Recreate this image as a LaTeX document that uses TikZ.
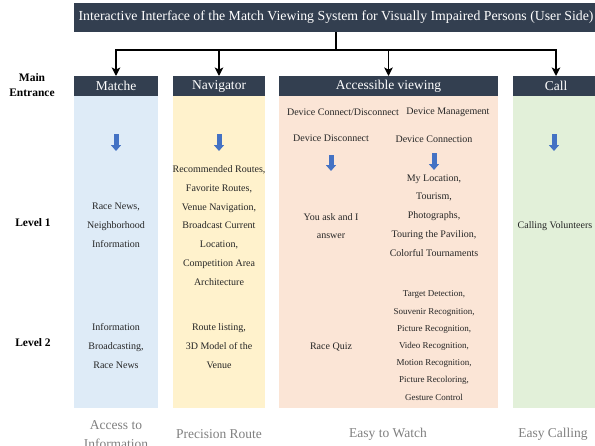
\documentclass[tikz,border=0pt]{standalone}
\usepackage{fontspec}
\setmainfont{Liberation Serif}
\usetikzlibrary{arrows.meta}
\definecolor{navy}{HTML}{333F50}
\definecolor{colblue}{HTML}{DEEBF7}
\definecolor{colyellow}{HTML}{FFF2CC}
\definecolor{colpink}{HTML}{FBE5D6}
\definecolor{colgreen}{HTML}{E2F0D9}
\definecolor{arrowblue}{HTML}{4472C4}
\definecolor{txt}{HTML}{262626}
\definecolor{caption}{HTML}{7F7F7F}
\begin{document}
\begin{tikzpicture}[x=1pt,y=-1pt,
  every node/.style={inner sep=0pt,outer sep=0pt},
  titlebox/.style={fill=navy,text=white,font=\fontsize{13.8}{16}\selectfont},
  headbox/.style={fill=navy,text=white,minimum height=20pt,font=\fontsize{13.5}{16}\selectfont},
  bodybox/.style={minimum height=312pt},
  item/.style={text=txt,align=center,font=\fontsize{10}{18.8}\selectfont},
  smallitem/.style={text=txt,align=center,font=\fontsize{9}{17.2}\selectfont},
  rowlabel/.style={align=center,font=\fontsize{11.5}{15}\selectfont\bfseries},
  capt/.style={text=caption,align=center,font=\fontsize{13.5}{19}\selectfont},
  conn/.style={line width=1.6pt,black},
  connarrow/.style={conn,-{Stealth[length=8.5pt,width=8.5pt,inset=2pt]}},
  downarrow/.style={arrowblue,line width=5pt,-{Triangle[width=10pt,length=6pt]}}
]
\useasboundingbox (0,0) rectangle (595,445);

% title bar
\node[titlebox,minimum width=524pt,minimum height=29pt] (t) at (336,17.5)
  {Interactive Interface of the Match Viewing System for Visually Impaired Persons (User Side)};

% column bodies
\node[bodybox,fill=colblue,minimum width=84pt] (mb) at (116,252) {};
\node[bodybox,fill=colyellow,minimum width=92pt] (nb) at (219,252) {};
\node[bodybox,fill=colpink,minimum width=219pt] (ab) at (388.5,252) {};
\node[bodybox,fill=colgreen,minimum width=86pt] (cb) at (556,252) {};

% column headers
\node[headbox,minimum width=84pt] (m) at (116,86) {Matche};
\node[headbox,minimum width=92pt] (n) at (219,86) {Navigator};
\node[headbox,minimum width=219pt] (a) at (388.5,86) {Accessible viewing};
\node[headbox,minimum width=86pt] (c) at (556,86) {Call};

% tree connectors
\coordinate (j) at (336,50);
\draw[conn] (t.south) -- (j);
\draw[connarrow] (j) -| (m.north);
\draw[connarrow] (j) -| (n.north);
\draw[connarrow] (j) -| (a.north);
\draw[connarrow] (j) -| (c.north);

% row labels
\node[rowlabel] (l0) at (32,85.5) {Main\\Entrance};
\node[rowlabel] (l1) at (33,223) {Level 1};
\node[rowlabel] (l2) at (33,343) {Level 2};

% Matche column
\draw[downarrow] (116,134) -- (116,151);
\node[item] (m1) at (116,225.5) {Race News,\\Neighborhood\\Information};
\node[item] (m2) at (116,346) {Information\\Broadcasting,\\Race News};

% Navigator column
\draw[downarrow] (219,134) -- (219,151);
\node[item] (n1) at (219,225.5) {Recommended Routes,\\Favorite Routes,\\Venue Navigation,\\Broadcast Current\\Location,\\Competition Area\\Architecture};
\node[item] (n2) at (219,346) {Route listing,\\3D Model of the\\Venue};

% Accessible viewing column
\node[item] (a0l) at (343,112) {Device Connect/Disconnect};
\node[item] (a0r) at (448,112) {Device Management};
\node[item] (a1l) at (331,138) {Device Disconnect};
\node[item] (a1r) at (434,139) {Device Connection};
\draw[downarrow] (331,155) -- (331,171);
\draw[downarrow] (434,153) -- (434,170);
\node[item] (a2l) at (331,226) {You ask and I\\answer};
\node[item] (a2r) at (434,215.5) {My Location,\\Tourism,\\Photographs,\\Touring the Pavilion,\\Colorful Tournaments};
\node[item] (a3l) at (331,347) {Race Quiz};
\node[smallitem] (a3r) at (434,345.5) {Target Detection,\\Souvenir Recognition,\\Picture Recognition,\\Video Recognition,\\Motion Recognition,\\Picture Recoloring,\\Gesture Control};

% Call column
\draw[downarrow] (554,134) -- (554,151);
\node[item] (c1) at (555,226) {Calling Volunteers};

% captions under the columns
\node[capt] (k1) at (116,434.5) {Access to\\Information};
\node[capt] (k2) at (219,434) {Precision Route};
\node[capt] (k3) at (388,434) {Easy to Watch};
\node[capt] (k4) at (553,434) {Easy Calling};
\end{tikzpicture}
\end{document}
